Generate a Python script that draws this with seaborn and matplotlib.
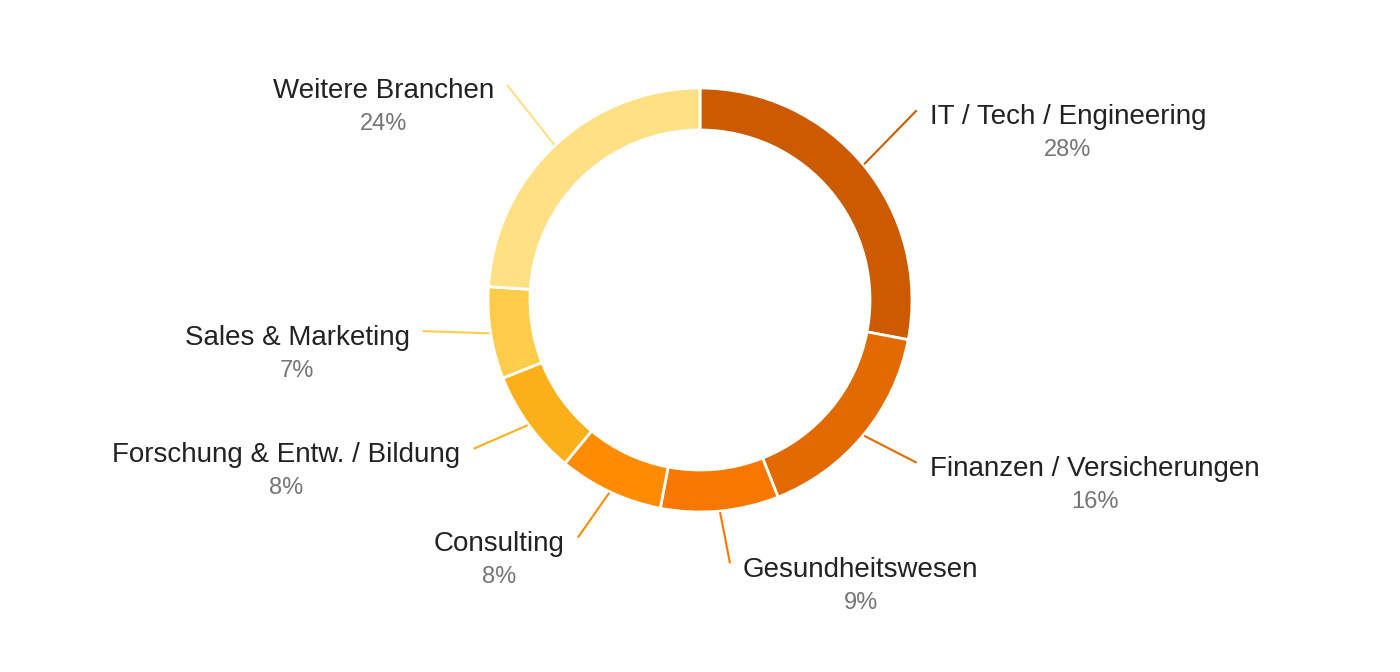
import numpy as np
import matplotlib
matplotlib.use("Agg")
import matplotlib.pyplot as plt
import seaborn as sns

categories = ["IT / Tech / Engineering", "Finanzen / Versicherungen", "Gesundheitswesen",
              "Consulting", "Forschung & Entw. / Bildung", "Sales & Marketing", "Weitere Branchen"]
values = [28, 16, 9, 8, 8, 7, 24]
pct_labels = ["28%", "16%", "9%", "8%", "8%", "7%", "24%"]
colors = ["#CC5A00", "#E26A00", "#F77700", "#FF8C00", "#FBB01A", "#FECC48", "#FFE084"]

# layout (pixels)
W, H = 1400, 672
CX, CY = 700, 300
R_OUT, R_IN = 212, 170
leader_end_angle = [48.8, 126.9, 173.5, 207.2, 236.7, 263.6, 318.1]   # degrees, clockwise from top
leader_end_r = [288, 271, 265, 267, 271, 279, 289]

sns.set_theme(style="white")
plt.rcParams['font.family'] = ['Liberation Sans', 'DejaVu Sans']

fig = plt.figure(figsize=(W / 100, H / 100), dpi=100)
ax = fig.add_axes([0, 0, 1, 1])
ax.set_xlim(0, W)
ax.set_ylim(0, H)
ax.set_aspect('equal')
ax.axis('off')

cy = H - CY
ax.pie(values, colors=colors, startangle=90, counterclock=False, center=(CX, cy),
       radius=R_OUT, wedgeprops=dict(width=R_OUT - R_IN, edgecolor='white', linewidth=2))
ax.set_xlim(0, W)
ax.set_ylim(0, H)

fig.canvas.draw()
renderer = fig.canvas.get_renderer()
inv = ax.transData.inverted()

total = sum(values)
cum = 0
for i, v in enumerate(values):
    mid = (cum + v / 2) / total * 2 * np.pi
    cum += v
    x0, y0 = CX + np.sin(mid) * (R_OUT + 1), cy + np.cos(mid) * (R_OUT + 1)
    ea = np.deg2rad(leader_end_angle[i])
    x1, y1 = CX + np.sin(ea) * leader_end_r[i], cy + np.cos(ea) * leader_end_r[i]
    ax.plot([x0, x1], [y0, y1], color=colors[i], lw=1.5, solid_capstyle='butt')
    right = x1 > CX
    tx = x1 + 13 if right else x1 - 13
    ty = y1 - 6.5
    t = ax.text(tx, ty, categories[i], ha='left' if right else 'right', va='center',
                fontsize=20, color='#222222')
    bb = t.get_window_extent(renderer)
    (bx0, _), (bx1, _) = inv.transform([[bb.x0, 0], [bb.x1, 0]])
    ax.text((bx0 + bx1) / 2, ty - 33, pct_labels[i], ha='center', va='center',
            fontsize=17, color='#757575')

fig.savefig("out.png", dpi=100)
